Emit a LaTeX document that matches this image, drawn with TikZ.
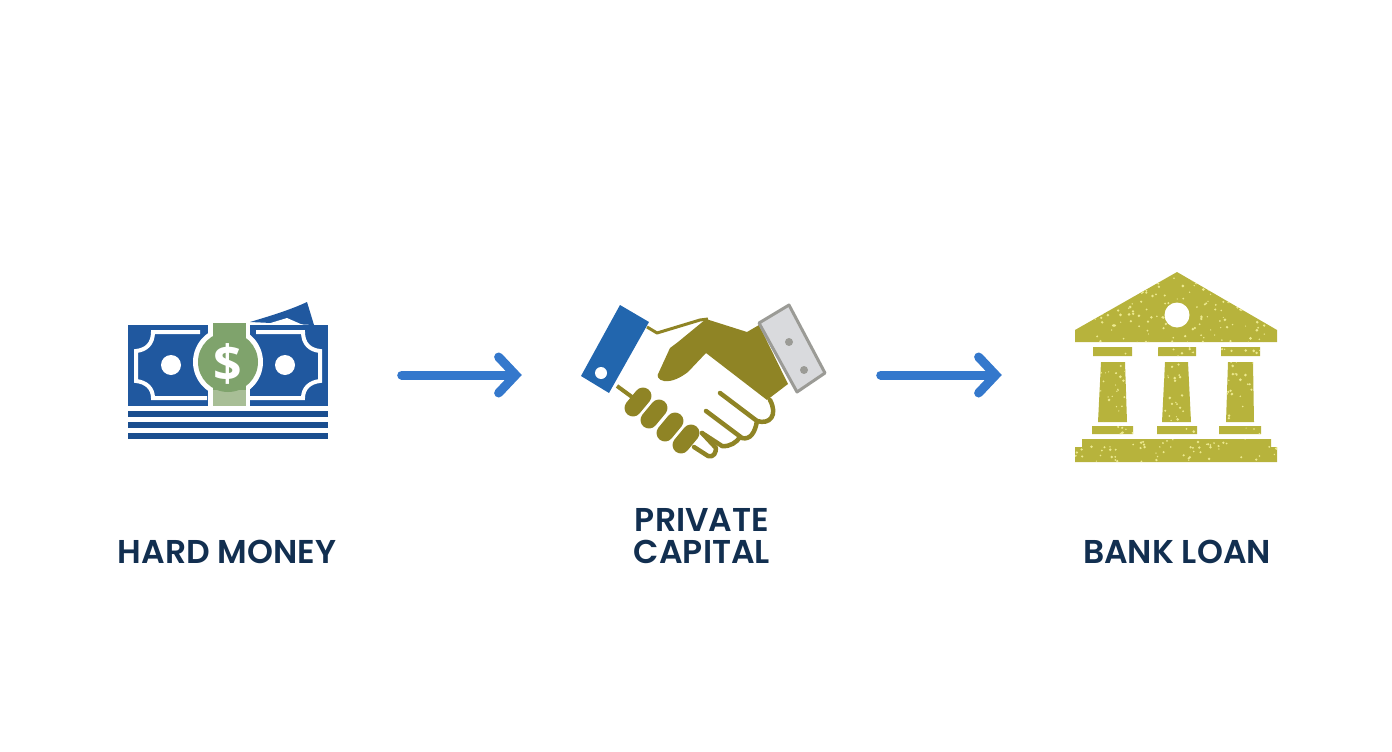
\documentclass[tikz,border=0pt]{standalone}
\usepackage{fontspec}
\setmainfont{Poppins}[BoldFont=Poppins SemiBold]
\newfontfamily\dollarfont{Open Sans}
\usetikzlibrary{arrows.meta}
\definecolor{moneyblue}{HTML}{20589F}
\definecolor{stripeblue}{HTML}{1A4E8F}
\definecolor{billgreen}{HTML}{7FA36C}
\definecolor{paleband}{HTML}{A8BE96}
\definecolor{handolive}{HTML}{8F8425}
\definecolor{cuffblue}{HTML}{2266AE}
\definecolor{cuffgrey}{HTML}{D9DADD}
\definecolor{cuffedge}{HTML}{9B9B96}
\definecolor{bankolive}{HTML}{B7B33C}
\definecolor{speckle}{HTML}{ECE98E}
\definecolor{flowblue}{HTML}{3478CC}
\definecolor{labelnavy}{HTML}{122F50}
\tikzset{
  iconbox/.style={inner sep=0pt,minimum height=20pt},
  caption/.style={font=\bfseries\fontsize{33}{32}\selectfont,text=labelnavy,align=center,inner sep=0pt},
  flowarrow/.style={line width=9pt,flowblue,line cap=round,-{Straight Barb[length=17pt,width=36pt,line width=9pt,line cap=round]}},
  finger/.style={line width=17pt,handolive,line cap=round},
  knuckle/.style={line width=4.5pt,handolive,line cap=round,line join=round},
  billframe/.style={line width=4pt,white,line join=miter},
}
\begin{document}
\begin{tikzpicture}[x=1pt,y=-1pt]
  \useasboundingbox (0,0) rectangle (1392,752);
  % invisible boxes, the arrows run between them
  \node[iconbox,minimum width=347pt] (moneyicon) at (228,375) {};
  \node[iconbox,minimum width=358.5pt] (handicon) at (701.25,375) {};
  \node[iconbox,minimum width=350pt] (bankicon) at (1177,375) {};
  \draw[flowarrow] (moneyicon) -- (handicon);
  \draw[flowarrow] (handicon) -- (bankicon);

  % money
  \fill[moneyblue] (250,322) .. controls (270,316) and (290,310) .. (307,302) -- (314,325) -- cycle;
  \fill[white] (264,325) -- (287,318) -- (303,325) -- cycle;
  \fill[moneyblue] (128,325) rectangle (328,406);
  \foreach \ytop in {411,422,433}
    \fill[stripeblue] (128,\ytop) rectangle (328,\ytop+6);
  \foreach \xa/\xs in {0/1,456/-1}
    \draw[billframe,xshift=\xa pt,xscale=\xs]
      (200,332) -- (153,332) .. controls (153,344) and (146,350) .. (136,351) -- (136,381)
      .. controls (146,382) and (153,388) .. (153,398) -- (207,398);
  \fill[white] (171,365) circle (10) (285,365) circle (10);
  \fill[white] (208,323) rectangle (250,406);
  \fill[white] (228,362) circle (35);
  \fill[billgreen] (213,323) rectangle (246,395);
  \fill[paleband] (213,390) rectangle (246,406);
  \fill[billgreen] (228,362) circle (30);
  \node[inner sep=0pt,text=white,font=\dollarfont\bfseries\fontsize{50}{50}\selectfont] (dollar) at (228,364) {\$};

  % handshake
  \fill[cuffblue] (620,305) -- (649,322) -- (609,393) -- (581,376) -- cycle;
  \fill[white] (601,373) circle (6);
  \draw[line width=3pt,handolive,line join=round] (647,327) -- (657,333) -- (700,320) -- (708,319);
  \draw[line width=4pt,handolive] (617,386) -- (632,397);
  \fill[handolive] (706,319) -- (747,332) -- (759,325) -- (788,384) -- (767,400) -- (706,353)
    -- (688,372) .. controls (680,378) and (672,382) .. (664,381)
    .. controls (658,380) and (656,376) .. (659,372) -- (670,348) -- (678,342) -- cycle;
  \draw[line width=3pt,cuffedge,fill=cuffgrey,line join=round] (789,305) -- (825,373) -- (797,392) -- (759,323) -- cycle;
  \fill[cuffedge] (789,342) circle (4) (804,370) circle (4);
  \foreach \xf/\yf in {638/402,654/414,670/427,686/439}
    \draw[finger] (\xf-5,\yf+6) -- (\xf+5,\yf-6);
  \draw[knuckle] (720,393) -- (757,421) .. controls (770,425) and (778,415) .. (770,400);
  \draw[knuckle] (706,411) -- (742,438) .. controls (750,440) and (755,433) .. (757,421);
  \draw[knuckle] (702,433) -- (722,446) .. controls (730,447) and (737,442) .. (740,437);
  \draw[knuckle] (694,447) -- (708,456) .. controls (714,458) and (716,452) .. (716,448) -- (702,433);

  % bank
  \fill[bankolive] (1177,272) -- (1277,330) -- (1277,342) -- (1075,342) -- (1075,330) -- cycle;
  \fill[bankolive] (1093,347) rectangle (1132,356) (1158,347) rectangle (1196,356) (1221,347) rectangle (1260,356);
  \fill[bankolive] (1101,362) -- (1125,362) -- (1127,422) -- (1098,422) -- cycle;
  \fill[bankolive] (1165,362) -- (1188,362) -- (1191,422) -- (1162,422) -- cycle;
  \fill[bankolive] (1228,362) -- (1253,362) -- (1254,422) -- (1226,422) -- cycle;
  \fill[bankolive] (1092,426) rectangle (1133,434) (1157,426) rectangle (1197,434) (1219,426) rectangle (1261,434);
  \fill[bankolive] (1082,439) rectangle (1271,447) (1075,447) rectangle (1277,462);
  \begin{scope}
    \clip (1177,272) -- (1277,330) -- (1277,342) -- (1075,342) -- (1075,330) -- cycle
      (1093,347) rectangle (1132,356) (1158,347) rectangle (1196,356) (1221,347) rectangle (1260,356)
      (1101,362) -- (1125,362) -- (1127,422) -- (1098,422) -- cycle
      (1165,362) -- (1188,362) -- (1191,422) -- (1162,422) -- cycle
      (1228,362) -- (1253,362) -- (1254,422) -- (1226,422) -- cycle
      (1092,426) rectangle (1133,434) (1157,426) rectangle (1197,434) (1219,426) rectangle (1261,434)
      (1082,439) rectangle (1271,447) (1075,447) rectangle (1277,462);
    \pgfmathsetseed{4217}
    \foreach \n in {1,...,460} {
      \pgfmathsetmacro{\xs}{1075+202*rnd}
      \pgfmathsetmacro{\ys}{272+190*rnd}
      \pgfmathsetmacro{\rs}{0.6+0.9*rnd}
      \fill[speckle] (\xs,\ys) circle (\rs);
    }
  \end{scope}
  \fill[white] (1177,315) circle (12.5);

  % captions
  \node[caption] (moneylabel) at (227,552) {HARD MONEY};
  \node[caption] (handlabel) at (702,536) {PRIVATE\\CAPITAL};
  \node[caption] (banklabel) at (1177,552) {BANK LOAN};
\end{tikzpicture}
\end{document}
